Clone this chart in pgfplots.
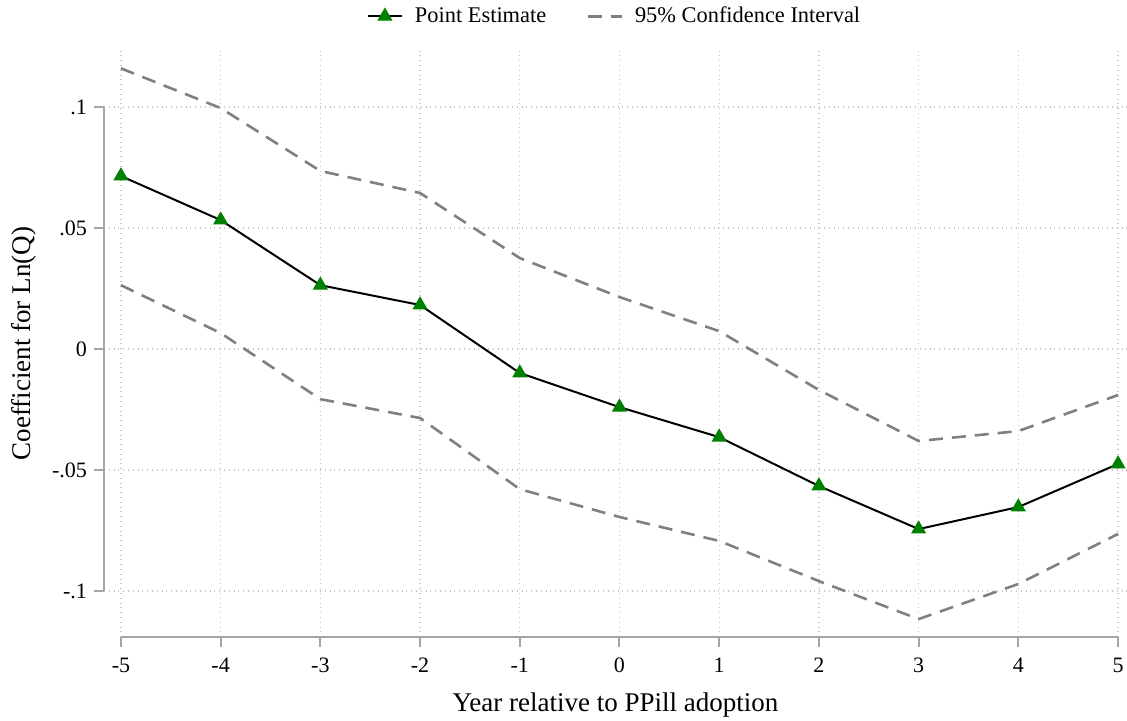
\documentclass[border=0pt]{standalone}
\usepackage{pgfplots}
\pgfplotsset{compat=1.18}
\usepackage{fontspec}
\setmainfont{Liberation Serif}
\definecolor{cigray}{RGB}{128,128,128}
\definecolor{ptgreen}{RGB}{0,128,0}
\definecolor{spine}{RGB}{165,165,165}
\begin{document}
\begin{tikzpicture}
\begin{axis}[
  at={(0,0)}, anchor=south west,
  scale only axis,
  width=511.5pt, height=293.5pt,
  xmin=-5.17, xmax=5.09,
  ymin=-0.119, ymax=0.1236,
  axis lines=left,
  axis line style={draw=none, -},
  xtick={-5,-4,-3,-2,-1,0,1,2,3,4,5},
  xticklabels={-5,-4,-3,-2,-1,0,1,2,3,4,5},
  ytick={-0.1,-0.05,0,0.05,0.1},
  yticklabels={-.1,-.05,0,.05,.1},
  tick align=outside,
  major tick length=5pt,
  tick style={spine, line width=1pt},
  grid=major,
  major grid style={dotted, gray!45, line width=0.6pt},
  ticklabel style={font=\fontsize{11}{13}\selectfont},
  xticklabel style={yshift=-2pt},
  xlabel={Year relative to PPill adoption},
  ylabel={Coefficient for Ln(Q)},
  label style={font=\fontsize{13.5}{16}\selectfont},
  xlabel style={yshift=-3pt},
  ylabel style={yshift=1pt},
  legend columns=2,
  legend style={at={(0.5,1)}, anchor=south, yshift=8pt, draw=none,
    font=\fontsize{11.2}{13}\selectfont,
    /tikz/every odd column/.append style={column sep=4pt},
    /tikz/every even column/.append style={column sep=18pt}},
  legend cell align=left,
  clip=false,
]
\addplot[black, line width=1pt, mark=triangle*, mark size=3.4pt,
  mark options={fill=ptgreen, draw=ptgreen}] coordinates {
(-5,0.0715) (-4,0.0533) (-3,0.0264) (-2,0.0182) (-1,-0.0099) (0,-0.0240)
(1,-0.0364) (2,-0.0566) (3,-0.0744) (4,-0.0653) (5,-0.0475)};
\addlegendentry{Point Estimate}
\addplot[cigray, line width=1.3pt, dash pattern=on 7pt off 4.5pt] coordinates {
(-5,0.1160) (-4,0.0996) (-3,0.0736) (-2,0.0645) (-1,0.0376) (0,0.0215)
(1,0.0074) (2,-0.0169) (3,-0.0380) (4,-0.0339) (5,-0.0190)};
\addlegendentry{95\% Confidence Interval}
\addplot[cigray, line width=1.3pt, dash pattern=on 7pt off 4.5pt, forget plot] coordinates {
(-5,0.0264) (-4,0.0066) (-3,-0.0207) (-2,-0.0285) (-1,-0.0579) (0,-0.0694)
(1,-0.0793) (2,-0.0959) (3,-0.1116) (4,-0.0971) (5,-0.0764)};
\draw[spine, line width=1pt] (axis cs:-5.17,-0.1) -- (axis cs:-5.17,0.1);
\draw[spine, line width=1pt] (axis cs:-5,-0.119) -- (axis cs:5,-0.119);
\end{axis}
\pgfresetboundingbox
\useasboundingbox (-52pt,-42pt) rectangle (511.5pt,318.5pt);
\end{tikzpicture}
\end{document}
